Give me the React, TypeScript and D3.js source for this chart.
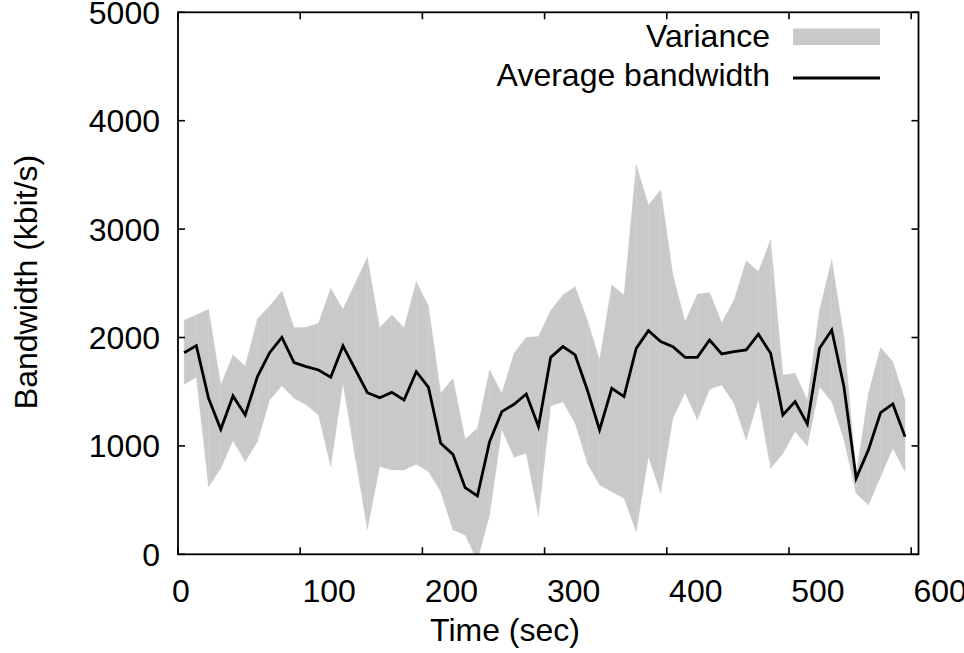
import React from "react";
import * as d3 from "d3";

const times = [5, 15, 25, 35, 45, 55, 65, 75, 85, 95, 105, 115, 125, 135, 145, 155, 165, 175, 185, 195,
  205, 215, 225, 235, 245, 255, 265, 275, 285, 295, 305, 315, 325, 335, 345, 355, 365, 375, 385, 395,
  405, 415, 425, 435, 445, 455, 465, 475, 485, 495, 505, 515, 525, 535, 545, 555, 565, 575, 585, 595];

const meanBw = [1860, 1925, 1439, 1153, 1461, 1285, 1639, 1860, 2002, 1768,
  1731, 1700, 1633, 1922, 1707, 1491, 1445, 1494, 1424, 1685,
  1540, 1024, 922, 615, 538, 1039, 1316, 1384, 1479, 1180,
  1817, 1916, 1839, 1516, 1147, 1531, 1455, 1900, 2063, 1962,
  1916, 1817, 1817, 1977, 1848, 1870, 1885, 2030, 1854, 1285,
  1408, 1202, 1900, 2069, 1546, 701, 963, 1307, 1387, 1085];

const upperBw = [2162, 2208, 2260, 1562, 1839, 1737, 2171, 2291, 2429, 2091,
  2094, 2131, 2454, 2260, 2500, 2740, 2091, 2208, 2091, 2515,
  2291, 1485, 1624, 1061, 1162, 1700, 1485, 1854, 2002, 2010,
  2250, 2392, 2469, 2162, 1793, 2485, 2392, 3592, 3223, 3361,
  2580, 2146, 2398, 2414, 2137, 2346, 2709, 2608, 2900, 1654,
  1670, 1424, 2254, 2715, 2008, 732, 1485, 1907, 1777, 1424];

const lowerBw = [1568, 1633, 624, 793, 1049, 855, 1039, 1424, 1556, 1439,
  1378, 1285, 809, 1577, 901, 231, 809, 778, 778, 830,
  763, 578, 224, 178, -60, 363, 1153, 895, 932, 350,
  1368, 1408, 1208, 839, 640, 578, 517, 209, 901, 563,
  1255, 1491, 1239, 1522, 1562, 1393, 1055, 1430, 793, 930,
  1132, 999, 1546, 1408, 1055, 563, 455, 716, 978, 763];

const xTicks = [0, 100, 200, 300, 400, 500, 600];
const yTicks = [0, 1000, 2000, 3000, 4000, 5000];

const FONT = "'Liberation Sans', Arial, Helvetica, sans-serif";

export default function App() {
  const W = 964, H = 653;
  const left = 178, right = 918.5, top = 12.3, bottom = 554.3;
  const x = d3.scaleLinear().domain([0, 606]).range([left, right]);
  const y = d3.scaleLinear().domain([0, 5000]).range([bottom, top]);

  const pts = times.map((t, i) => ({ t, m: meanBw[i], u: upperBw[i], l: lowerBw[i] }));
  const area = d3.area<any>().x((d) => x(d.t)).y0((d) => y(d.l)).y1((d) => y(d.u));
  const line = d3.line<any>().x((d) => x(d.t)).y((d) => y(d.m));

  const segs = pts.slice(0, -1).map((p, i) => [p, pts[i + 1]]);
  const tickLen = 7;

  return (
    <svg width={W} height={H} style={{ position: "absolute", left: 0, top: 0, background: "#fff" }}
      fontFamily={FONT}>
      <defs>
        <clipPath id="plotclip">
          <rect x={left} y={top} width={right - left} height={bottom - top} />
        </clipPath>
      </defs>
      <rect x={0} y={0} width={W} height={H} fill="#fff" />
      <g clipPath="url(#plotclip)">
        {segs.map((s, i) => (
          <path key={i} d={area(s) || ""} fill="#c9c9c9" stroke="#cbcbcb" strokeWidth={0.35} />
        ))}
        <path d={line(pts) || ""} fill="none" stroke="#000" strokeWidth={2.8} strokeLinejoin="miter" />
      </g>
      {/* frame */}
      <rect x={left} y={top} width={right - left} height={bottom - top} fill="none" stroke="#000" strokeWidth={1.8} />
      {/* x ticks */}
      {xTicks.map((t) => (
        <g key={"xt" + t}>
          <line x1={x(t)} x2={x(t)} y1={bottom} y2={bottom - tickLen} stroke="#000" strokeWidth={1.6} />
          <line x1={x(t)} x2={x(t)} y1={top} y2={top + tickLen} stroke="#000" strokeWidth={1.6} />
          <text x={x(t) + (String(t).length > 1 ? 29 : 3)} y={602} fontSize={32} textAnchor="middle" fill="#000">
            {t}
          </text>
        </g>
      ))}
      {/* y ticks */}
      {yTicks.map((v) => (
        <g key={"yt" + v}>
          <line x1={left} x2={left + tickLen} y1={y(v)} y2={y(v)} stroke="#000" strokeWidth={1.6} />
          <line x1={right} x2={right - tickLen} y1={y(v)} y2={y(v)} stroke="#000" strokeWidth={1.6} />
          <text x={160} y={y(v) + 11.5} fontSize={32} textAnchor="end" fill="#000">
            {v}
          </text>
        </g>
      ))}
      {/* axis titles */}
      <text x={505} y={641} fontSize={32} textAnchor="middle" fill="#000">Time (sec)</text>
      <text transform="translate(37,282) rotate(-90)" fontSize={32} textAnchor="middle" fill="#000">
        Bandwidth (kbit/s)
      </text>
      {/* legend */}
      <text x={770} y={47} fontSize={32} textAnchor="end" fill="#000">Variance</text>
      <rect x={793} y={28.5} width={87} height={16.5} fill="#c9c9c9" />
      <text x={770} y={86} fontSize={32} textAnchor="end" fill="#000">Average bandwidth</text>
      <line x1={793} x2={880} y1={78} y2={78} stroke="#000" strokeWidth={2.8} />
    </svg>
  );
}
